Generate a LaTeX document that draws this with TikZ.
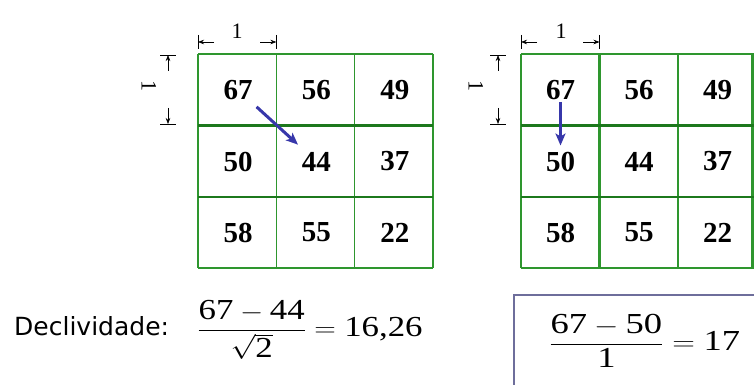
\documentclass[tikz,border=0pt]{standalone}
\usepackage{amsmath}
\usepackage{graphicx}
\usepackage{fontspec}
\setmainfont{Liberation Serif}
\newfontfamily\labelfont{DejaVu Sans}
\newfontfamily\termsfont{Liberation Serif}
\usetikzlibrary{arrows.meta}
\definecolor{gridgreen}{RGB}{46,150,46}
\definecolor{rowgreen}{RGB}{28,120,28}
\definecolor{slopeblue}{RGB}{55,55,170}
\definecolor{boxgray}{RGB}{110,110,155}
\newcommand{\tm}[1]{\text{\termsfont #1}}

\begin{document}
\begin{tikzpicture}[x=1pt, y=-1pt,
  cellline/.style={gridgreen, line width=1.6pt},
  rowline/.style={rowgreen, line width=2.6pt},
  num/.style={font=\fontsize{29}{32}\selectfont\bfseries, inner sep=2pt},
  dimline/.style={line width=0.6pt},
  dimtip/.style={dimline, -{Stealth[length=6pt, width=4.5pt]}},
  dimlabel/.style={font=\fontsize{22}{24}\selectfont, inner sep=0pt},
  slope/.style={slopeblue, line width=3pt, -{Stealth[length=12pt, width=10pt, inset=3pt]}},
  formula/.style={font=\fontsize{29}{34}\selectfont, inner sep=0pt, anchor=west}]
  \useasboundingbox (0,0) rectangle (754,385);

  \foreach \x in {198,276.33,354.67,433} \draw[cellline] (\x,54) -- (\x,268);
  \draw[cellline] (198,54) -- (433,54) (198,268) -- (433,268);
  \draw[rowline] (198,125.5) -- (433,125.5) (198,197) -- (433,197);
  \foreach \x in {521,599.5,678,752.5} \draw[cellline, line width=2.3pt] (\x,54) -- (\x,268);
  \draw[cellline, line width=2.3pt] (521,54) -- (754,54) (521,268) -- (754,268);
  \draw[rowline] (521,125.5) -- (754,125.5) (521,197) -- (754,197);

  \foreach \v [count=\c] in {67,56,49} \node[num] (l1\c) at (159.8+78.33*\c,90) {\v};
  \foreach \v [count=\c] in {50,44,37} \node[num] (l2\c) at (159.8+78.33*\c,161.5) {\v};
  \foreach \v [count=\c] in {58,55,22} \node[num] (l3\c) at (159.8+78.33*\c,232.5) {\v};
  \foreach \v [count=\c] in {67,56,49} \node[num] (r1\c) at (482+78.5*\c,90) {\v};
  \foreach \v [count=\c] in {50,44,37} \node[num] (r2\c) at (482+78.5*\c,161.5) {\v};
  \foreach \v [count=\c] in {58,55,22} \node[num] (r3\c) at (482+78.5*\c,232.5) {\v};

  \draw[slope, shorten <=25pt, shorten >=25pt] (l11.center) -- (l22.center);
  \draw[slope, line width=2.5pt, shorten <=12pt, shorten >=16pt] (r11.center) -- (r21.center);

  \coordinate (lwa) at (198,42);
  \coordinate (lwb) at (276.33,42);
  \draw[dimline] (198,35) -- (198,49) (276.33,35) -- (276.33,49);
  \draw[dimtip] (214,42) -- (lwa);
  \draw[dimtip] (260,42) -- (lwb);
  \node[dimlabel] (lw) at (237,31) {1};
  \coordinate (lha) at (168,55);
  \coordinate (lhb) at (168,124);
  \draw[dimline] (160,55) -- (176,55) (160,124) -- (176,124);
  \draw[dimtip] (168,71) -- (lha);
  \draw[dimtip] (168,108) -- (lhb);
  \node[dimlabel, rotate=-90] (lh) at (149,86) {1};

  \coordinate (rwa) at (521,42);
  \coordinate (rwb) at (599.5,42);
  \draw[dimline] (521,35) -- (521,49) (599.5,35) -- (599.5,49);
  \draw[dimtip] (537,42) -- (rwa);
  \draw[dimtip] (583,42) -- (rwb);
  \node[dimlabel] (rw) at (561,31) {1};
  \coordinate (rha) at (498,55);
  \coordinate (rhb) at (498,124);
  \draw[dimline] (490,55) -- (506,55) (490,124) -- (506,124);
  \draw[dimtip] (498,71) -- (rha);
  \draw[dimtip] (498,108) -- (rhb);
  \node[dimlabel, rotate=-90] (rh) at (476,86) {1};

  \draw[boxgray, line width=1.8pt] (514,295) rectangle (770,400);
  \node[font=\labelfont\fontsize{25}{28}\selectfont, anchor=west, inner sep=0pt] (decl) at (14,326) {Declividade:};
  \node[formula] (diag) at (197,330) {\scalebox{1.2}[1]{$\displaystyle\frac{\tm{67}-\tm{44}}{\sqrt{\tm{2}}}=\tm{16,26}$}};
  \node[formula] (orto) at (549,341) {\scalebox{1.26}[1]{$\displaystyle\frac{\tm{67}-\tm{50}}{\tm{1}}=\tm{17}$}};
\end{tikzpicture}
\end{document}
